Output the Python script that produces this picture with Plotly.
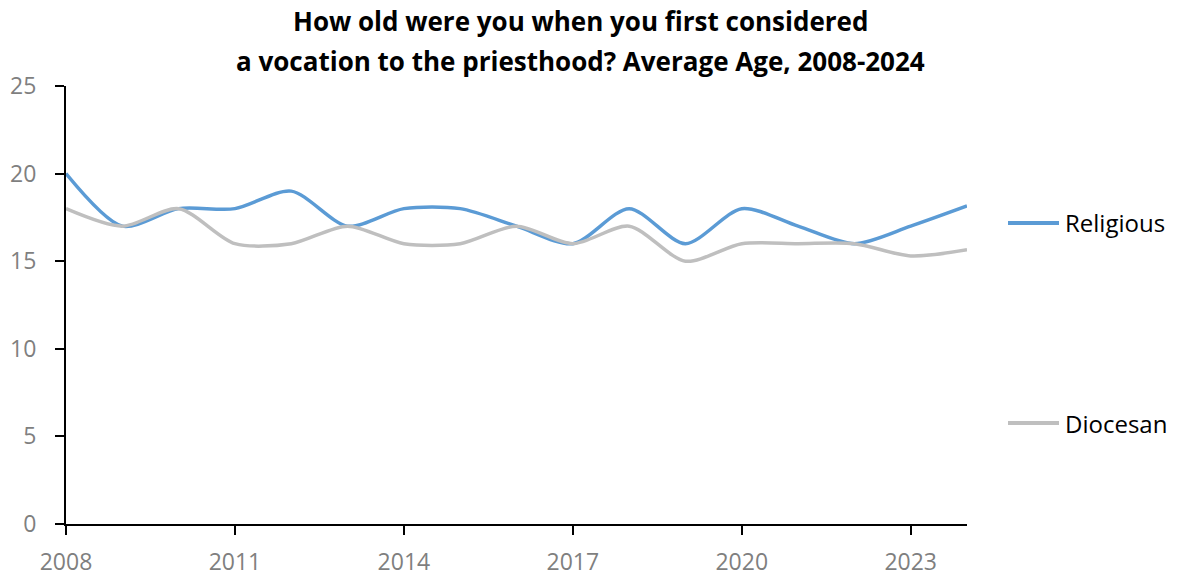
import plotly.graph_objects as go

years = list(range(2008, 2025))
religious = [20, 17, 18, 18, 19, 17, 18, 18, 17, 16, 18, 16, 18, 17, 16, 17, 18.15]
diocesan = [18, 17, 18, 16, 16, 17, 16, 16, 17, 16, 17, 15, 16, 16, 16, 15.3, 15.65]
x_ticks = [2008, 2011, 2014, 2017, 2020, 2023]
y_ticks = [0, 5, 10, 15, 20, 25]
title_lines = ["How old were you when you first considered",
               "a vocation to the priesthood? Average Age, 2008-2024"]
series_names = ["Religious", "Diocesan"]
series_colors = ["#5B9BD5", "#BFBFBF"]

FONT = "Open Sans, sans-serif"

# plot area in screen pixels (page body margin removed below)
L, R, T, B = 66, 967, 86, 524
def px(x):
    return (x - L) / (R - L)
def py(y):
    return (B - y) / (B - T)

fig = go.Figure()
for name, vals, col in zip(series_names, [religious, diocesan], series_colors):
    fig.add_trace(go.Scatter(x=years, y=vals, name=name, mode="lines",
                             line=dict(color=col, width=3.5, shape="spline", smoothing=0.8),
                             showlegend=False))

for txt, yy in zip(title_lines, [21, 61]):
    fig.add_annotation(text=f"<b>{txt}</b>", xref="paper", yref="paper", x=px(580), y=py(yy),
                       xanchor="center", yanchor="middle", showarrow=False,
                       font=dict(family=FONT, size=26, color="black"))

# legend entries (manual, to match the long sample lines)
for name, col, yy in zip(series_names, series_colors, [223, 423]):
    fig.add_shape(type="line", xref="paper", yref="paper", x0=px(1008), x1=px(1059),
                  y0=py(yy), y1=py(yy), line=dict(color=col, width=4))
    fig.add_annotation(text=name, xref="paper", yref="paper", x=px(1063), y=py(yy),
                       xanchor="left", yanchor="middle", showarrow=False,
                       font=dict(family=FONT, size=24, color="black"))

fig.update_layout(
    width=1179, height=578,
    margin=dict(l=L, r=1179 - R, t=T, b=578 - B, autoexpand=False),
    paper_bgcolor="white", plot_bgcolor="white",
    xaxis=dict(range=[2008, 2024], tickvals=x_ticks, ticks="outside", ticklen=9, tickwidth=2,
               tickcolor="black", showline=True, linecolor="black", linewidth=2,
               showgrid=False, zeroline=False, automargin=False, ticklabelstandoff=7,
               tickfont=dict(family=FONT, size=23, color="#7F7F7F")),
    yaxis=dict(range=[0, 25], tickvals=y_ticks, ticks="outside", ticklen=9, tickwidth=2,
               tickcolor="black", showline=True, linecolor="black", linewidth=2,
               showgrid=False, zeroline=False, automargin=False, ticklabelstandoff=14,
               tickfont=dict(family=FONT, size=23, color="#7F7F7F")),
)

fig.write_html("out.html", config={"displayModeBar": False},
               post_script="document.body.style.margin='0';")
